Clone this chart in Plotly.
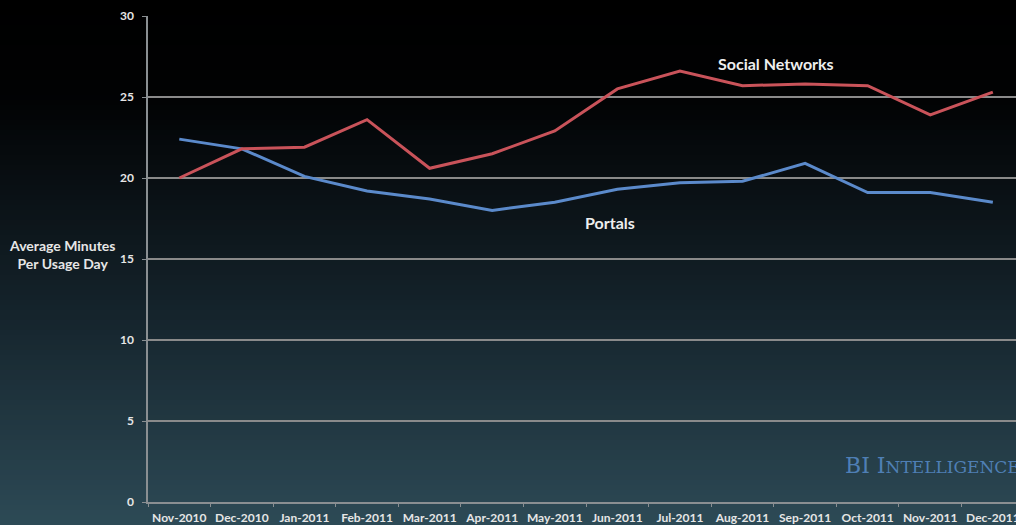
import plotly.graph_objects as go

# Monthly average minutes per usage day
months = ["Nov-2010", "Dec-2010", "Jan-2011", "Feb-2011", "Mar-2011", "Apr-2011", "May-2011",
          "Jun-2011", "Jul-2011", "Aug-2011", "Sep-2011", "Oct-2011", "Nov-2011", "Dec-2011"]
social_networks = [20.0, 21.8, 21.9, 23.6, 20.6, 21.5, 22.9, 25.5, 26.6, 25.7, 25.8, 25.7, 23.9, 25.3]
portals = [22.4, 21.8, 20.1, 19.2, 18.7, 18.0, 18.5, 19.3, 19.7, 19.8, 20.9, 19.1, 19.1, 18.5]
y_ticks = [0, 5, 10, 15, 20, 25, 30]

fig = go.Figure()
fig.add_trace(go.Scatter(x=months, y=portals, mode="lines", name="Portals",
                         line=dict(color="#5b8acb", width=3)))
fig.add_trace(go.Scatter(x=months, y=social_networks, mode="lines", name="Social Networks",
                         line=dict(color="#c9535a", width=3)))

# Vertical background gradient: black at top fading to dark teal at the bottom
stops = [(0.0, (0, 0, 0)), (0.18, (1, 2, 3)), (0.35, (9, 15, 19)),
         (0.6, (21, 36, 44)), (1.0, (45, 74, 86))]


def grad_color(t):
    for (t0, c0), (t1, c1) in zip(stops[:-1], stops[1:]):
        if t0 <= t <= t1:
            f = (t - t0) / (t1 - t0) if t1 > t0 else 0
            return "rgb(%d,%d,%d)" % tuple(round(a + (b - a) * f) for a, b in zip(c0, c1))
    return "rgb(%d,%d,%d)" % stops[-1][1]


W, H = 1016, 525
ml, mr, mt, mb = 148, 0, 16, 23
pw, ph = W - ml - mr, H - mt - mb
n = 105
shapes = []
for i in range(n):
    y0px, y1px = H * i / n, H * (i + 1) / n + 1
    t = (i + 0.5) / n
    shapes.append(dict(type="rect", xref="paper", yref="paper", layer="below",
                       x0=-ml / pw - 0.01, x1=1.01,
                       y0=(H - mb - y1px) / ph, y1=(H - mb - y0px) / ph,
                       fillcolor=grad_color(t), line=dict(width=0)))

tick_font = dict(family="Lato, sans-serif", size=12, color="#e6e6e6", weight="bold")
label_font = dict(family="Lato, sans-serif", size=16, color="#eeeeee")

fig.update_layout(
    width=W, height=H,
    margin=dict(l=ml, r=mr, t=mt, b=mb, autoexpand=False),
    paper_bgcolor="rgba(0,0,0,0)",
    plot_bgcolor="rgba(0,0,0,0)",
    showlegend=False,
    shapes=shapes,
    xaxis=dict(type="category", range=[-0.5, 13.37], showgrid=False, automargin=False,
               showline=True, linecolor="#8a8f92", linewidth=1.5, tickangle=0,
               ticks="outside", tickson="boundaries", ticklen=3, tickcolor="#8a8f92",
               ticklabelstandoff=4, tickfont=tick_font, fixedrange=True),
    yaxis=dict(range=[0, 30], tickvals=y_ticks, showgrid=True, gridcolor="#8a8a8a", gridwidth=1.5,
               zeroline=False, showline=True, linecolor="#8a8f92", linewidth=1.5, automargin=False,
               ticks="outside", ticklen=4, tickcolor="#8a8f92", ticklabelstandoff=6,
               tickfont=tick_font),
    annotations=[
        dict(text="<b>Average Minutes<br>Per Usage Day</b>", xref="paper", yref="y",
             x=(62 - ml) / pw, y=15.3, showarrow=False, xanchor="center", yanchor="middle",
             font=dict(family="Lato, sans-serif", size=14, color="#e6e6e6"), align="center"),
        dict(text="<b>Social Networks</b>", xref="paper", yref="y",
             x=(776 - ml) / pw, y=(502 - 63) / 16.2, showarrow=False,
             xanchor="center", yanchor="middle", font=label_font),
        dict(text="<b>Portals</b>", xref="paper", yref="y",
             x=(610 - ml) / pw, y=(502 - 222) / 16.2, showarrow=False,
             xanchor="center", yanchor="middle", font=label_font),
        dict(text="BI I<span style='font-size:17px'>NTELLIGENCE</span>", xref="paper", yref="y",
             x=(843 - ml) / pw, y=(502 - 465) / 16.2, showarrow=False,
             xanchor="left", yanchor="middle",
             font=dict(family="'DejaVu Serif', serif", size=22, color="#4f7fb5")),
    ],
)

fig.write_html("out.html")
